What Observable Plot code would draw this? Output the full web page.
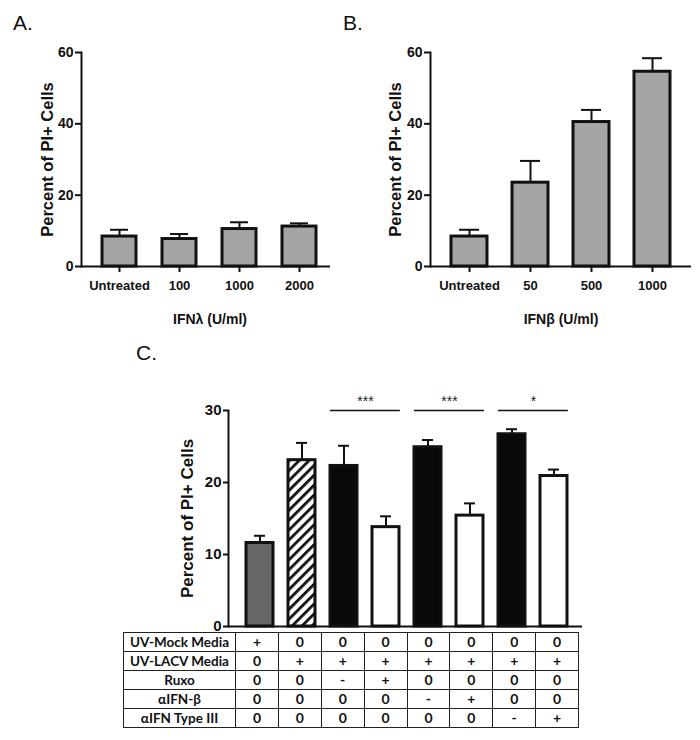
<!DOCTYPE html>
<html><head><meta charset="utf-8">
<script src="https://cdn.jsdelivr.net/npm/d3@7"></script>
<script src="https://cdn.jsdelivr.net/npm/@observablehq/plot@0.6"></script>
<style>
body{margin:0;background:#fff;}
#root{position:relative;width:700px;height:740px;overflow:hidden;background:#fff;}
.panel{position:absolute;}
.plabel{position:absolute;font-family:"Liberation Sans",Arial,sans-serif;font-size:21px;line-height:21px;color:#111;}
#tbl{position:absolute;left:123px;top:632px;width:455px;border-collapse:collapse;table-layout:fixed;}
#tbl td{border:1.5px solid #222;height:18px;padding:0;text-align:center;vertical-align:middle;font-family:Lato,"Open Sans",sans-serif;font-weight:bold;color:#111;font-size:14px;line-height:18px;}
#tbl td.lab{font-size:13.5px;}
</style></head>
<body><div id="root"></div>
<script>
// ---- Panel A data ----
const dosesA = ["Untreated", "100", "1000", "2000"];
const meanA = [8.4, 7.7, 10.5, 11.2];
const errA = [1.9, 1.4, 1.9, 0.9];
const titleA = "IFNλ (U/ml)";
// ---- Panel B data ----
const dosesB = ["Untreated", "50", "500", "1000"];
const meanB = [8.4, 23.5, 40.5, 54.6];
const errB = [1.9, 6.1, 3.4, 3.8];
const titleB = "IFNβ (U/ml)";
const yTicksAB = [0, 20, 40, 60];
const yTitle = "Percent of PI+ Cells";
// ---- Panel C data ----
const groupsC = ["Mock", "LACV", "LACV ctrl Ruxo", "LACV + Ruxo", "LACV ctrl αIFN-β", "LACV + αIFN-β", "LACV ctrl αIFN III", "LACV + αIFN III"];
const kindC = ["mock", "lacv", "control", "treated", "control", "treated", "control", "treated"];
const meanC = [11.6, 23.1, 22.3, 13.8, 24.9, 15.4, 26.7, 20.9];
const errC = [1.0, 2.4, 2.8, 1.5, 1.0, 1.7, 0.7, 0.9];
const yTicksC = [0, 10, 20, 30];
const sigStart = ["LACV ctrl Ruxo", "LACV ctrl αIFN-β", "LACV ctrl αIFN III"];
const sigLabel = ["***", "***", "*"];
const sigLevel = 30;
// ---- Table ----
const rowLabels = ["UV-Mock Media", "UV-LACV Media", "Ruxo", "αIFN-β", "αIFN Type III"];
const rowValues = [
  ["+", "0", "0", "0", "0", "0", "0", "0"],
  ["0", "+", "+", "+", "+", "+", "+", "+"],
  ["0", "0", "-", "+", "0", "0", "0", "0"],
  ["0", "0", "0", "0", "-", "+", "0", "0"],
  ["0", "0", "0", "0", "0", "0", "-", "+"]
];

const root = document.getElementById("root");
const sans = '"Liberation Sans",Arial,sans-serif';

function place(el, left, top) {
  const d = document.createElement("div");
  d.className = "panel";
  d.style.left = left + "px";
  d.style.top = top + "px";
  d.appendChild(el);
  root.appendChild(d);
}
function label(text, left, top) {
  const d = document.createElement("div");
  d.className = "plabel";
  d.style.left = left + "px";
  d.style.top = top + "px";
  d.textContent = text;
  root.appendChild(d);
}

function panelAB(cats, mean, err, xTitle, o) {
  const data = cats.map((c, i) => ({c, m: mean[i], e: err[i]}));
  return Plot.plot({
    width: o.width, height: 310,
    marginLeft: o.ml, marginRight: o.mr, marginTop: 52, marginBottom: 44,
    style: {background: "transparent", fontFamily: sans, fontWeight: "bold", fontSize: "13px", color: "#111", overflow: "visible"},
    x: {type: "band", domain: cats, range: o.range, paddingInner: o.pad, paddingOuter: o.pad / 2, label: null, axis: null},
    y: {domain: [0, 60], label: null, axis: null},
    marks: [
      Plot.ruleX(data, {x: "c", y1: "m", y2: d => d.m + d.e, stroke: "#111", strokeWidth: 2}),
      Plot.tickY(data, {x: "c", y: d => d.m + d.e, insetLeft: 8, insetRight: 8, stroke: "#111", strokeWidth: 2}),
      Plot.barY(data, {x: "c", y: "m", fill: "#a5a5a5", stroke: "#111", strokeWidth: 3}),
      Plot.axisY({ticks: yTicksAB, tickSize: 6, tickPadding: 2, strokeWidth: 2, label: null, fontSize: 14}),
      Plot.axisX({tickSize: 6, tickPadding: 8, strokeWidth: 2, label: null}),
      Plot.ruleY([0], {stroke: "#111", strokeWidth: 2}),
      Plot.frame({anchor: "left", stroke: "#111", strokeWidth: 2}),
      Plot.text([yTitle], {text: d => d, frameAnchor: "left", textAnchor: "middle", rotate: -90, dx: o.ydx, fontFamily: sans, fontWeight: "bold", fontSize: 16.5, fill: "#111"}),
      Plot.text([xTitle], {text: d => d, frameAnchor: "bottom", textAnchor: "middle", dy: 57, dx: o.xdx, fontFamily: sans, fontWeight: "bold", fontSize: 14, fill: "#111"})
    ]
  });
}

const A = panelAB(dosesA, meanA, errA, titleA, {width: 340, ml: 81, mr: 10, range: [87.7, 330.3], pad: 0.44, ydx: -34, xdx: 4});
place(A, 0, 0);
const B = panelAB(dosesB, meanB, errB, titleB, {width: 360, ml: 90, mr: 9, range: [98.5, 342.5], pad: 0.41, ydx: -35, xdx: 0});
place(B, 340, 0);

// ---- Panel C ----
const fills = {mock: "#676767", lacv: "url(#hatchC)", control: "#0a0a0a", treated: "#ffffff"};
const dataC = groupsC.map((g, i) => ({g, m: meanC[i], e: errC[i], k: kindC[i]}));
const sigData = sigStart.map((g, i) => ({g, s: sigLabel[i]}));
const padC = 0.347;
const rangeC = [85, 428];
const stepC = (rangeC[1] - rangeC[0]) / groupsC.length;
const C = Plot.plot({
  width: 450, height: 250,
  marginLeft: 78, marginRight: 18, marginTop: 30, marginBottom: 4,
  style: {background: "transparent", fontFamily: sans, fontWeight: "bold", fontSize: "15px", color: "#111", overflow: "visible"},
  x: {type: "band", domain: groupsC, range: rangeC, paddingInner: padC, paddingOuter: padC / 2, axis: null},
  y: {domain: [0, 30], axis: null},
  marks: [
    Plot.ruleX(dataC, {x: "g", y1: "m", y2: d => d.m + d.e, stroke: "#111", strokeWidth: 2}),
    Plot.tickY(dataC, {x: "g", y: d => d.m + d.e, insetLeft: 8, insetRight: 8, stroke: "#111", strokeWidth: 2}),
    Plot.barY(dataC, {x: "g", y: "m", fill: d => fills[d.k], stroke: "#111", strokeWidth: 3}),
    Plot.tickY(sigData, {x: "g", y: () => sigLevel, insetRight: -stepC, stroke: "#111", strokeWidth: 1.5}),
    Plot.text(sigData, {x: "g", y: () => sigLevel, text: "s", dx: stepC / 2, dy: -9, fontSize: 14, fontWeight: "normal", fill: "#222"}),
    Plot.axisY({ticks: yTicksC, tickSize: 5, tickPadding: 2, strokeWidth: 2, label: null}),
    Plot.ruleY([0], {stroke: "#111", strokeWidth: 2}),
    Plot.frame({anchor: "left", stroke: "#111", strokeWidth: 2}),
    Plot.text([yTitle], {text: d => d, frameAnchor: "left", textAnchor: "middle", rotate: -90, dx: -41, fontSize: 17, fontWeight: "bold", fill: "#111"})
  ]
});
d3.select(C).insert("defs", ":first-child").html(
  '<pattern id="hatchC" patternUnits="userSpaceOnUse" width="7" height="7" patternTransform="rotate(45)">' +
  '<rect width="7" height="7" fill="white"/><rect x="0" y="0" width="2.8" height="7" fill="#111"/></pattern>');
place(C, 150, 380);

label("A.", 13, 12);
label("B.", 343, 12);
label("C.", 136, 342);

// ---- Table ----
const tbl = document.createElement("table");
tbl.id = "tbl";
const cg = document.createElement("colgroup");
const c0 = document.createElement("col"); c0.style.width = "112px"; cg.appendChild(c0);
groupsC.forEach(() => { const c = document.createElement("col"); c.style.width = stepC + "px"; cg.appendChild(c); });
tbl.appendChild(cg);
rowLabels.forEach((lab, r) => {
  const tr = document.createElement("tr");
  const th = document.createElement("td"); th.className = "lab"; th.textContent = lab; tr.appendChild(th);
  rowValues[r].forEach(v => { const td = document.createElement("td"); td.textContent = v; tr.appendChild(td); });
  tbl.appendChild(tr);
});
root.appendChild(tbl);
</script>
</body></html>
